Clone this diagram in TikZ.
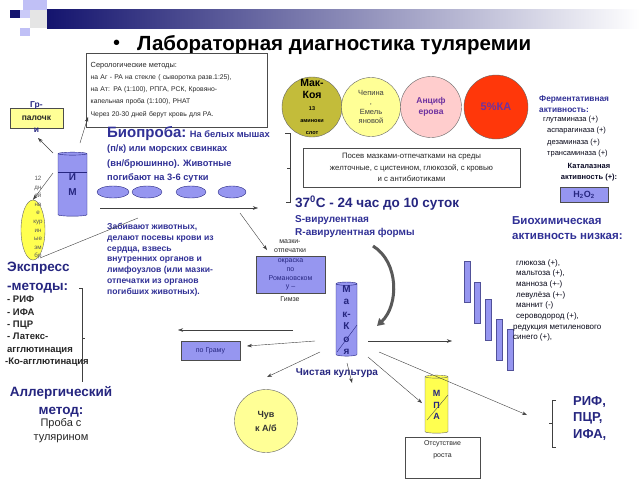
\documentclass[tikz,border=0pt]{standalone}
\usepackage{fontspec}
\setmainfont{Liberation Sans}
\usetikzlibrary{shapes.geometric,arrows.meta}
\definecolor{navy}{RGB}{38,38,128}
\definecolor{inkblue}{RGB}{48,48,150}
\definecolor{lavender}{RGB}{150,150,240}
\definecolor{paleyellow}{RGB}{255,255,150}
\definecolor{lemon}{RGB}{255,255,80}
\definecolor{olive}{RGB}{195,188,58}
\definecolor{rose}{RGB}{255,205,205}
\definecolor{flame}{RGB}{255,55,10}
\definecolor{plum}{RGB}{110,50,160}
\definecolor{banner}{RGB}{20,20,110}
\newcommand{\fsz}[2]{\fontsize{#1}{#2}\selectfont}

\begin{document}
\begin{tikzpicture}[x=1pt,y=-1pt,>={Stealth[length=5pt,width=3.5pt]},thin,
  txt/.style={inner sep=0pt,anchor=north west,align=left,text=navy},
  frame box/.style={draw=black!70,inner sep=0pt,align=center},
  blue box/.style={frame box,fill=lavender,text=navy},
  culture/.style={circle,draw=black!60,inner sep=0pt,align=center},
  tube/.style={cylinder,shape border rotate=90,aspect=0.9,draw=navy!80,fill=lavender,inner sep=0pt},
  link/.style={->,black!75}]
\useasboundingbox[fill=white] (0,0) rectangle (640,480);

% banner
\fill[lavender!60] (23,0) rectangle (47,10);
\fill[banner] (10,10) rectangle (20,18);
\fill[lavender!50] (20,10) rectangle (30,18);
\fill[black!10] (30,10) rectangle (47,28);
\fill[lavender!60] (20,28) rectangle (30,36);
\shade[left color=banner,right color=white] (47,9) rectangle (640,28);

% title
\node[txt,anchor=west,text=black,font=\fsz{20}{24}] (bullet) at (113,45) {•};
\node[txt,anchor=west,text=black,font=\fsz{20.5}{24}\bfseries] (title) at (137,45) {Лабораторная диагностика туляремии};

% serology
\node[frame box,fill=white,anchor=north west,minimum width=181pt,minimum height=74pt,align=left,text width=172pt,font=\fsz{6.8}{11.8},text=black!85] (sero) at (86,53)
  {{\fsz{7.4}{11.8}Серологические методы:}\\на Аг -  РА на стекле  ( сыворотка разв.1:25),\\на Ат: РА (1:100), РПГА, РСК, Кровяно-\\капельная проба (1:100), РНАТ\\[1.5pt]Через 20-30 дней берут кровь для РА.};

% material
\node[frame box,fill=paleyellow,minimum width=53pt,minimum height=20pt,font=\fsz{8.5}{10}\bfseries,text=black!85] (rods) at (36.5,118) {палочк};
\node[txt,anchor=center,font=\fsz{8.5}{10}\bfseries] at (36.5,105) {Гр-};
\node[txt,anchor=center,font=\fsz{8.5}{10}\bfseries] at (36.5,130) {и};
\node[cylinder,shape border rotate=90,aspect=0.35,draw=navy,fill=lavender,inner sep=0pt,minimum width=29pt,minimum height=64pt,align=center,text=navy,font=\fsz{10}{15}\bfseries] (im) at (72.5,185) {И\\М};
\draw[navy] (58,172) -- (87,172);
\node[ellipse,draw=black!60,fill=lemon,minimum width=24pt,minimum height=60pt,inner sep=0pt] (egg) at (33,230) {};
\node[txt,anchor=north,align=center,text=black!65,font=\fsz{6.2}{8.6}] at (38,176) {12\\дн\\ей\\на\\е\\кур\\ин\\ые\\эм\\бр};

% bioassay
\node[txt,font=\fsz{9.3}{14.4}\bfseries,text=inkblue] (bio) at (107,126)
  {{\fsz{15}{14.4}Биопроба:} На белых мышах\\(п/к) или морских свинках\\(вн/брюшинно). Животные\\погибают на  3-6 сутки};
\foreach \x/\w [count=\i] in {113/32,147/30,191/30,232/28}
  \node[ellipse,draw=navy,fill=lavender,minimum width=\w pt,minimum height=12pt,inner sep=0pt] (mouse\i) at (\x,192) {};
\node[txt,font=\fsz{8.6}{10.8}\bfseries,text=inkblue] (kill) at (107,223)
  {Забивают животных,\\делают посевы крови из\\сердца, взвесь\\внутренних органов и\\лимфоузлов (или мазки-\\отпечатки из органов\\погибших животных).};
\draw[black!75] (285,133) -- (290,133) -- (290,202) -- (286,202);
\draw[black!75] (290,168) -- (287,168);

% media
\node[culture,fill=olive,minimum size=60pt] (mccoy) at (312,107)
  {\fsz{10.5}{15}\bfseries Мак-\\\fsz{10.5}{14}\bfseries Коя\\\fsz{5.5}{8.5}\bfseries 13\\\fsz{5.5}{8.5}\bfseries аминоки\\\fsz{5.5}{8.5}\bfseries слот};
\node[culture,fill=paleyellow,minimum size=59pt,text=black!75,font=\fsz{7.5}{9.6}] (chepin) at (371,107) {Чепина\\,\\Емель\\яновой};
\node[culture,fill=rose,minimum size=61pt,text=plum,font=\fsz{8.5}{10.5}\bfseries] (ancif) at (431,107) {Анциф\\ерова};
\node[culture,fill=flame,minimum size=64pt,text=plum,font=\fsz{11}{13}\bfseries] (ka) at (496,107) {5\%КА};
\node[frame box,minimum width=217pt,minimum height=39pt,font=\fsz{7.8}{11.5},text=black!85] (sow) at (411.5,167.5)
  {Посев мазками-отпечатками на среды\\желточные, с цистеином, глюкозой, с кровью\\и с антибиотиками};
\node[txt,anchor=west,font=\fsz{13.5}{16}\bfseries] (temp) at (295,203) {37\textsuperscript{0}С - 24 час до 10 суток};
\node[txt,font=\fsz{10}{13}\bfseries,text=inkblue] (forms) at (295,215) {S-вирулентная\\R-авирулентная  формы};

% enzymes
\node[txt,font=\fsz{8.3}{10.5}\bfseries,text=inkblue] (ferm) at (539,96) {Ферментативная\\активность:};
\node[txt,font=\fsz{7.5}{11.3},text=black!80!navy] (enz) at (543,116)
  {глутаминаза (+)\\\hspace*{4pt}аспарагиназа  (+)\\\hspace*{4pt}дезаминаза (+)\\\hspace*{4pt}трансаминаза (+)};
\node[txt,anchor=north,align=center,font=\fsz{7.5}{11}\bfseries,text=black!70!navy] (cat) at (589,163) {Каталазная\\активность (+):};
\node[blue box,minimum width=48pt,minimum height=15pt,font=\fsz{9}{10}\bfseries] (perox) at (584,194.5) {H\textsubscript{2}O\textsubscript{2}};
\node[txt,font=\fsz{11.5}{15}\bfseries,text=inkblue] (biochem) at (512,216) {Биохимическая\\активность низкая:};
\foreach \x/\y [count=\i] in {467/282,477/303,488/320,499/340,510/350}
  \node[tube,minimum width=6pt,minimum height=41pt] (tube\i) at (\x,\y) {};
\node[txt,font=\fsz{8}{10.7},text=black!80!navy] (sugars) at (513,259)
  {\hspace*{3pt}глюкоза (+),\\\hspace*{3pt}мальтоза (+),\\\hspace*{3pt}манноза (+-)\\\hspace*{3pt}левулёза (+-)\\\hspace*{3pt}маннит (-)\\\hspace*{3pt}сероводород (+),\\редукция метиленового\\синего (+),};

% smears and culture
\node[txt,anchor=center,align=center,font=\fsz{7}{9.5},text=black!85] (smtext) at (290,246) {мазки-\\отпечатки};
\node[blue box,minimum width=69pt,minimum height=37pt,font=\fsz{7}{8.8}] (smear) at (290.5,274.5) {окраска\\по\\Романовском\\у –};
\node[txt,anchor=center,font=\fsz{7}{9},text=black!85] (giemsa) at (290,299) {Гимзе};
\node[cylinder,shape border rotate=90,aspect=0.4,draw=navy,fill=lavender,inner sep=0pt,minimum width=21pt,minimum height=70pt,align=center,text=navy,font=\fsz{10}{12.4}\bfseries] (mccoytube) at (346.5,320) {М\\а\\к-\\К\\о\\я};
\draw[navy] (357,325) -- (337,352);
\node[blue box,minimum width=59pt,minimum height=19pt,font=\fsz{7}{9}] (gram) at (210.5,351) {по Граму};
\node[txt,anchor=center,font=\fsz{10}{12}\bfseries] (pure) at (337,373) {Чистая культура};
\node[culture,fill=paleyellow,minimum size=63pt,text=black!80,font=\fsz{9}{14}\bfseries] (abx) at (266,421) {Чув\\к А/б};
\node[cylinder,shape border rotate=90,aspect=0.4,draw=black!60,fill=lemon,inner sep=0pt,minimum width=23pt,minimum height=58pt,align=center,text=navy,font=\fsz{9}{11.5}\bfseries] (mpa) at (436.5,405) {М\\П\\А};
\draw[black!70] (448,395) -- (427,420);
\node[frame box,minimum width=75pt,minimum height=41pt,
  label={[txt,anchor=north,align=center,yshift=-4pt,font=\fsz{7}{12},text=black!85]north:Отсутствие\\роста}] (nogrowth) at (442.5,457.5) {};
\node[txt,font=\fsz{13}{16.5}\bfseries] (sero2) at (573,396) {РИФ,\\ПЦР,\\ИФА,};
\draw[black!75] (556,400) -- (552,400) -- (552,447) -- (556,447);
\draw[black!75] (552,423) -- (549,423);

% express and allergy
\node[txt,font=\fsz{13.5}{19}\bfseries] (express) at (7,262) {Экспресс\\-методы:};
\node[txt,font=\fsz{9.5}{12.4}\bfseries,text=black!85] (exlist) at (7,296)
  {- РИФ\\- ИФА\\- ПЦР\\- Латекс-\\агглютинация\\\hspace*{-2pt}-Ко-агглютинация};
\draw[black!75] (79,288) -- (82,288) -- (82,382);
\draw[black!75] (82,338) -- (85,338);
\node[txt,anchor=north,align=center,font=\fsz{13.5}{18}\bfseries] (allergy) at (61,386) {Аллергический\\метод:};
\node[txt,anchor=north,align=center,font=\fsz{11}{14.5},text=black!85] (tular) at (61,418) {Проба с\\тулярином};

% connectors
\coordinate (im up) at (80,143);  \coordinate (sero in) at (88,117);
\coordinate (im left) at (53,153); \coordinate (rods in) at (38,138);
\coordinate (im low) at (53,173);
\coordinate (egg low) at (40,258); \coordinate (kill in) at (138,218);
\coordinate (row start) at (100,208); \coordinate (row end) at (258,208);
\coordinate (smear from) at (240,213); \coordinate (smear in) at (267,250);
\coordinate (c west) at (293,330); \coordinate (west end) at (178,330);
\coordinate (c gram) at (315,341); \coordinate (gram in) at (247,346);
\coordinate (c abx) at (320,352); \coordinate (abx in) at (267,377);
\coordinate (c down) at (347,363); \coordinate (down end) at (352,383);
\coordinate (c east) at (368,341); \coordinate (east end) at (452,341);
\coordinate (c far) at (379,352); \coordinate (far end) at (527,415);
\coordinate (c mpa) at (368,357); \coordinate (mpa in) at (422,403);

\draw[link] (im up) -- (sero in);
\draw[link] (im left) -- (rods in);
\draw[link] (im low) -- (egg.north);
\draw[black!75] (egg low) -- (kill in);
\draw[link] (row start) -- (row end);
\draw[link] (smear from) -- (smear in);
\draw[link] (c west) -- (west end);
\draw[link] (c gram) -- (gram in);
\draw[link] (c abx) -- (abx in);
\draw[link] (c down) -- (down end);
\draw[link] (c east) -- (east end);
\draw[link] (c far) -- (far end);
\draw[link] (c mpa) -- (mpa in);
\draw[line width=3pt,black!65,-{Triangle[length=7pt,width=8pt]}] (373,246) .. controls (399,262) and (399,305) .. (377,326);
\end{tikzpicture}
\end{document}
